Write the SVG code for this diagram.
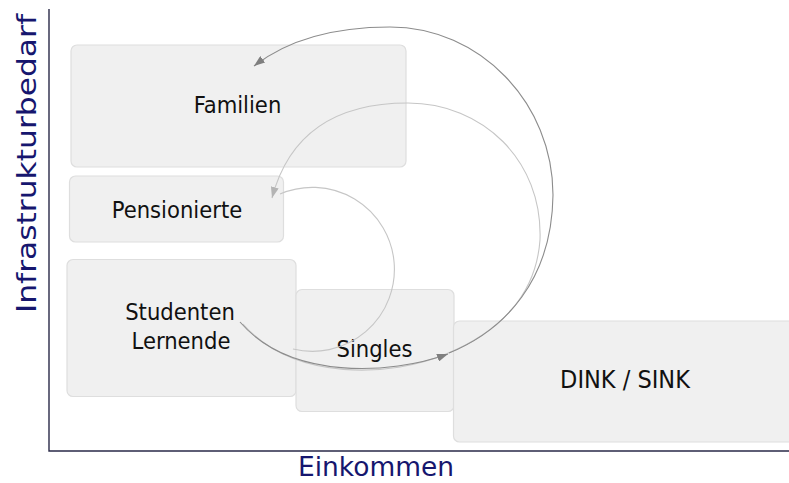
<svg xmlns="http://www.w3.org/2000/svg" width="789" height="483" viewBox="0 0 789 483">
<style>
.box{fill:#f0f0f0;stroke:#dedede;stroke-width:1.2}
.lbl{font-family:'DejaVu Sans Condensed','DejaVu Sans',sans-serif;font-stretch:condensed;font-size:23.5px;fill:#111;text-anchor:middle}
.axis{stroke:#2a2a48;stroke-width:1.4;fill:none}
.axl{font-family:'DejaVu Sans',sans-serif;font-size:26px;fill:#16166e}
.dark{fill:none;stroke:#8c8c8c;stroke-width:1.1}
.light{fill:none;stroke:#c6c6c6;stroke-width:1.1}
</style>
<defs>
<marker id="ahD" markerUnits="userSpaceOnUse" markerWidth="11" markerHeight="8" refX="11" refY="4" orient="auto"><path d="M0,0 L11,4 L0,8 z" fill="#7f7f7f"/></marker>
<marker id="ahL" markerUnits="userSpaceOnUse" markerWidth="11" markerHeight="8" refX="11" refY="4" orient="auto"><path d="M0,0 L11,4 L0,8 z" fill="#b4b4b4"/></marker>
</defs>
<rect width="789" height="483" fill="#ffffff"/>
<g id="axes">
<path class="axis" d="M49,9 L49,451 L789,451"/>
<text class="axl" transform="translate(36,313) rotate(-90)" textLength="299" lengthAdjust="spacingAndGlyphs">Infrastrukturbedarf</text>
<text class="axl" x="298" y="476" textLength="156" lengthAdjust="spacingAndGlyphs">Einkommen</text>
</g>
<g id="node-familien"><rect class="box" x="71" y="45" width="335" height="122" rx="6"/><text class="lbl" x="237.5" y="112.5">Familien</text></g>
<g id="node-pensionierte"><rect class="box" x="69.5" y="176" width="214" height="66" rx="6"/><text class="lbl" x="177" y="218">Pensionierte</text></g>
<g id="node-studenten"><rect class="box" x="67" y="259.5" width="229" height="137" rx="6"/><text class="lbl" x="180"><tspan x="180" y="320">Studenten</tspan><tspan x="181" y="349">Lernende</tspan></text></g>
<g id="node-singles"><rect class="box" x="296" y="289.5" width="158" height="122" rx="6"/><text class="lbl" x="374.5" y="357">Singles</text></g>
<g id="node-dink"><rect class="box" x="453.5" y="321" width="345" height="121" rx="6"/><text class="lbl" x="625" y="388" style="font-size:25px">DINK / SINK</text></g>
<g id="connectors">
<path class="light" d="M280,194 A82,82 0 1 1 293,349"/>
<path class="light" marker-end="url(#ahL)" d="M243,324 C 294,382 392,377 446,354 C 500,332 536,295 540,240 C 543,160 482,103 408,103 C 340,103 290,130 272,198"/>
<path class="dark" marker-end="url(#ahD)" d="M240,322 C 290,380 390,375 448,354"/>
<path class="dark" marker-end="url(#ahD)" d="M449,353 C 505,330 552,280 553,195 C 553,103 480,27 390,27 C 330,27 285,42 254,66"/>
</g>
</svg>
